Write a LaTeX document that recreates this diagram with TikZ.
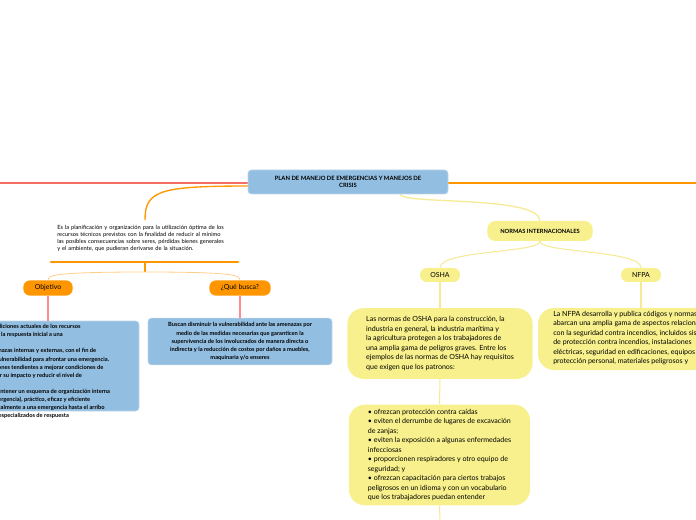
\documentclass[tikz,border=0pt]{standalone}
\usepackage{fontspec}
\setmainfont{Lato}
\begin{document}
\begin{tikzpicture}[x=0.75pt,y=-0.75pt,
 blue/.style={fill={rgb,255:red,146;green,190;blue,225}, draw={rgb,255:red,190;green,215;blue,235}, rounded corners=2.5pt},
 orng/.style={fill={rgb,255:red,255;green,150;blue,0}, rounded corners=5pt, font=\fontsize{5.2}{6}\selectfont},
 yel/.style={fill={rgb,255:red,247;green,240;blue,140}},
 tiny/.style={font=\fontsize{4.3}{5.3}\selectfont},
 small/.style={font=\fontsize{5.3}{7.1}\selectfont},
 orline/.style={draw={rgb,255:red,255;green,205;blue,140}, line width=0.6pt},
 yline/.style={draw={rgb,255:red,245;green,235;blue,150}, line width=0.8pt},
 rline/.style={draw={rgb,255:red,255;green,140;blue,140}, line width=0.8pt}]
\useasboundingbox (0,0) rectangle (696,520);
% top lines
\draw[draw={rgb,255:red,245;green,110;blue,100}, line width=1pt] (0,183) -- (248,183);
\draw[draw={rgb,255:red,255;green,150;blue,0}, line width=1pt] (448,183) -- (696,183);
\draw[draw={rgb,255:red,255;green,150;blue,0}, line width=1pt] (252,186) .. controls (160,186) and (145,190) .. (145,220);
\draw[yline, line width=1pt] (400,194) .. controls (400,205) and (540,195) .. (540,221);
\node[blue, minimum width=150pt, minimum height=18pt, font=\bfseries\fontsize{4.4}{5.6}\selectfont, align=center] (title) at (348,182) {PLAN DE MANEJO DE EMERGENCIAS Y MANEJOS DE\\CRISIS};
% left branch
\node[tiny, anchor=north west, align=left, text width=127pt, inner sep=0] (def) at (57,225) {Es la planificación y organización para la utilización óptima de los recursos técnicos previstos con la finalidad de reducir al mínimo las posibles consecuencias sobre seres, pérdidas bienes generales y el ambiente, que pudieran derivarse de la situación.};
\draw[draw={rgb,255:red,255;green,150;blue,0}, line width=2pt, line cap=round] (51,262) -- (238,262);
\coordinate (split) at (145,272);
\draw[draw={rgb,255:red,255;green,150;blue,0}, line width=0.8pt] (145,262) -- (split);
\node[orng, minimum width=37pt, minimum height=11pt] (obj) at (48,288) {Objetivo};
\node[orng, minimum width=46pt, minimum height=11pt] (que) at (240,288) {¿Qué busca?};
\draw[orline] (split) .. controls (48,272) and (48,276) .. (obj.north);
\draw[orline] (split) .. controls (240,272) and (240,276) .. (que.north);
\draw[blue] (-60,321) rectangle (139,411);
\node[font=\bfseries\fontsize{4.3}{6.1}\selectfont, anchor=north west, align=left, inner sep=0] (objt) at (-40,324) {Evaluar las condiciones actuales de los recursos\\
necesarios para la respuesta inicial a una\\
emergencia.\\
Identificar amenazas internas y externas, con el fin de\\
determinar la vulnerabilidad para afrontar una emergencia.\\
Establecer acciones tendientes a mejorar condiciones de\\
riesgo, disminuir su impacto y reducir el nivel de\\
vulnerabilidad.\\
Establecer y mantener un esquema de organización interna\\
(Brigada de emergencia), práctico, eficaz y eficiente\\
para actuar inicialmente a una emergencia hasta el arribo\\
de organismos especializados de respuesta};
\node[blue, minimum width=138pt, minimum height=31pt, font=\bfseries\fontsize{4.3}{6.1}\selectfont, align=center] (quet) at (240,341.5) {Buscan disminuir la vulnerabilidad ante las amenazas por\\medio de las medidas necesarias que garanticen la\\supervivencia de los involucrados de manera directa o\\indirecta y la reducción de costos por daños a muebles,\\maquinaria y/o enseres};
\draw[rline] (obj.south) -- (48,321);
\draw[rline] (que.south) -- (quet.north);
% right branch
\node[yel, rounded corners=6pt, minimum width=79pt, minimum height=15pt, font=\bfseries\fontsize{4.3}{5}\selectfont] (norm) at (540,231) {NORMAS INTERNACIONALES};
\node[yel, rounded corners=5pt, minimum width=30pt, minimum height=10.5pt, font=\fontsize{5.2}{6}\selectfont] (osha) at (440,275) {OSHA};
\node[yel, rounded corners=5pt, minimum width=30pt, minimum height=10.5pt, font=\fontsize{5.2}{6}\selectfont] (nfpa) at (641,275) {NFPA};
\draw[yline] (norm.south) .. controls (540,253) and (440,250) .. (osha.north);
\draw[yline] (norm.south) .. controls (540,253) and (641,250) .. (nfpa.north);
\node[yel, rounded corners=12pt, minimum width=139pt, minimum height=53pt, small, align=left] (oshat) at (440,343.5) {Las normas de OSHA para la construcción, la\\industria en general, la industria marítima y\\la agricultura protegen a los trabajadores de\\una amplia gama de peligros graves. Entre los\\ejemplos de las normas de OSHA hay requisitos\\que exigen que los patronos:};
\fill[yel, rounded corners=12pt] (538,308) rectangle (760,370);
\node[small, anchor=north west, align=left, inner sep=0] (nfpat) at (553,311) {La NFPA desarrolla y publica códigos y normas que\\abarcan una amplia gama de aspectos relacionados\\con la seguridad contra incendios, incluidos sistemas\\de protección contra incendios, instalaciones\\eléctricas, seguridad en edificaciones, equipos de\\protección personal, materiales peligrosos y};
\node[yel, rounded corners=12pt, minimum width=136pt, minimum height=75pt, small, align=left] (bul) at (439.5,455) {• ofrezcan protección contra caídas\\• eviten el derrumbe de lugares de excavación\\de zanjas;\\• eviten la exposición a algunas enfermedades\\infecciosas\\• proporcionen respiradores y otro equipo de\\seguridad; y\\• ofrezcan capacitación para ciertos trabajos\\peligrosos en un idioma y con un vocabulario\\que los trabajadores puedan entender};
\draw[yline] (osha.south) -- (oshat.north);
\draw[yline] (nfpa.south) -- (641,308);
\draw[yline] (oshat.south) -- (bul.north);
\coordinate (bend) at (440,520);
\draw[yline] (bul.south) -- (bend);
\end{tikzpicture}
\end{document}
